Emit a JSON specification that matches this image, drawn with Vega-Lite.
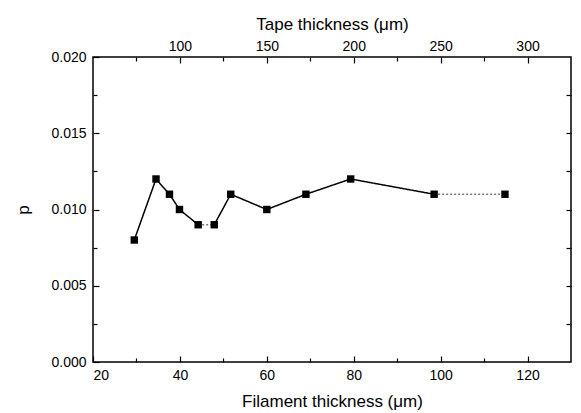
{
  "$schema": "https://vega.github.io/schema/vega-lite/v6.json",
  "width": 478,
  "height": 305,
  "autosize": {"type": "none"},
  "padding": {"left": 93, "top": 57, "right": 10, "bottom": 51},
  "background": "white",
  "config": {
    "view": {"stroke": "black", "strokeWidth": 1.5},
    "font": "Liberation Sans",
    "axis": {
      "grid": false,
      "domain": false,
      "tickColor": "black",
      "tickWidth": 1.2,
      "labelColor": "black",
      "titleColor": "black",
      "labelFontSize": 14,
      "titleFontSize": 17,
      "titleFontWeight": "normal",
      "labelFont": "Liberation Sans",
      "titleFont": "Liberation Sans"
    }
  },
  "datasets": {
    "pts": [
      {"f": 29.5, "p": 0.008},
      {"f": 34.5, "p": 0.012},
      {"f": 37.6, "p": 0.011},
      {"f": 39.9, "p": 0.010},
      {"f": 44.2, "p": 0.009},
      {"f": 47.9, "p": 0.009},
      {"f": 51.7, "p": 0.011},
      {"f": 60.0, "p": 0.010},
      {"f": 69.0, "p": 0.011},
      {"f": 79.3, "p": 0.012},
      {"f": 98.5, "p": 0.011},
      {"f": 114.8, "p": 0.011}
    ],
    "segs": [
      {"f": 29.5, "p": 0.008, "seg": "a", "style": "solid"},
      {"f": 34.5, "p": 0.012, "seg": "a", "style": "solid"},
      {"f": 37.6, "p": 0.011, "seg": "a", "style": "solid"},
      {"f": 39.9, "p": 0.010, "seg": "a", "style": "solid"},
      {"f": 44.2, "p": 0.009, "seg": "a", "style": "solid"},
      {"f": 44.2, "p": 0.009, "seg": "b", "style": "dotted"},
      {"f": 47.9, "p": 0.009, "seg": "b", "style": "dotted"},
      {"f": 47.9, "p": 0.009, "seg": "c", "style": "solid"},
      {"f": 51.7, "p": 0.011, "seg": "c", "style": "solid"},
      {"f": 60.0, "p": 0.010, "seg": "c", "style": "solid"},
      {"f": 69.0, "p": 0.011, "seg": "c", "style": "solid"},
      {"f": 79.3, "p": 0.012, "seg": "c", "style": "solid"},
      {"f": 98.5, "p": 0.011, "seg": "c", "style": "solid"},
      {"f": 98.5, "p": 0.011, "seg": "d", "style": "dotted"},
      {"f": 114.8, "p": 0.011, "seg": "d", "style": "dotted"}
    ],
    "tape": [{"t": 50, "p": 0}, {"t": 325, "p": 0.02}]
  },
  "layer": [
    {
      "layer": [
        {
          "data": {"name": "segs"},
          "mark": {"type": "line", "strokeWidth": 1.5},
          "encoding": {
            "x": {"field": "f", "type": "quantitative", "scale": {"domain": [20, 130]},
              "axis": {"orient": "bottom", "values": [20, 40, 60, 80, 100, 120], "tickSize": -6, "labelPadding": 12, "title": "Filament thickness (μm)", "titlePadding": 11}},
            "y": {"field": "p", "type": "quantitative", "scale": {"domain": [0, 0.02]},
              "axis": {"orient": "left", "values": [0, 0.005, 0.01, 0.015, 0.02], "format": ".3f", "tickSize": -6, "labelPadding": 13, "title": "p", "titlePadding": 18}},
            "detail": {"field": "seg"},
            "strokeDash": {"field": "style", "type": "nominal", "scale": {"domain": ["solid", "dotted"], "range": [[1, 0], [2, 2]]}, "legend": null},
            "color": {"field": "style", "type": "nominal", "scale": {"domain": ["solid", "dotted"], "range": ["black", "#777777"]}, "legend": null}
          }
        },
        {
          "data": {"name": "pts"},
          "mark": {"type": "square", "filled": true, "color": "black", "size": 55, "opacity": 1},
          "encoding": {
            "x": {"field": "f", "type": "quantitative"},
            "y": {"field": "p", "type": "quantitative"}
          }
        }
      ]
    },
    {
      "data": {"name": "tape"},
      "mark": {"type": "point", "opacity": 0},
      "encoding": {
        "x": {"field": "t", "type": "quantitative", "scale": {"domain": [50, 325]},
          "axis": {"orient": "top", "values": [100, 150, 200, 250, 300], "tickSize": -6, "labelPadding": 10, "title": "Tape thickness (μm)", "titlePadding": 6}},
        "y": {"field": "p", "type": "quantitative", "scale": {"domain": [0, 0.02]},
          "axis": {"orient": "right", "values": [0.0025, 0.005, 0.0075, 0.01, 0.0125, 0.015, 0.0175], "tickSize": -5, "labels": false, "title": null}}
      }
    },
    {
      "data": {"name": "tape"},
      "mark": {"type": "point", "opacity": 0},
      "encoding": {
        "x": {"field": "t", "type": "quantitative", "scale": {"domain": [50, 325]},
          "axis": {"orient": "top", "values": [75, 125, 175, 225, 275], "tickSize": -4, "labels": false, "title": null}},
        "y": {"field": "p", "type": "quantitative", "scale": {"domain": [0, 0.02]},
          "axis": {"orient": "left", "values": [0.0025, 0.0075, 0.0125, 0.0175], "tickSize": -4, "labels": false, "title": null}}
      }
    },
    {
      "data": {"name": "pts"},
      "mark": {"type": "point", "opacity": 0},
      "encoding": {
        "x": {"field": "f", "type": "quantitative", "scale": {"domain": [20, 130]},
          "axis": {"orient": "bottom", "values": [30, 50, 70, 90, 110], "tickSize": -4, "labels": false, "title": null}}
      }
    }
  ],
  "resolve": {"scale": {"x": "independent", "y": "independent"}}
}
